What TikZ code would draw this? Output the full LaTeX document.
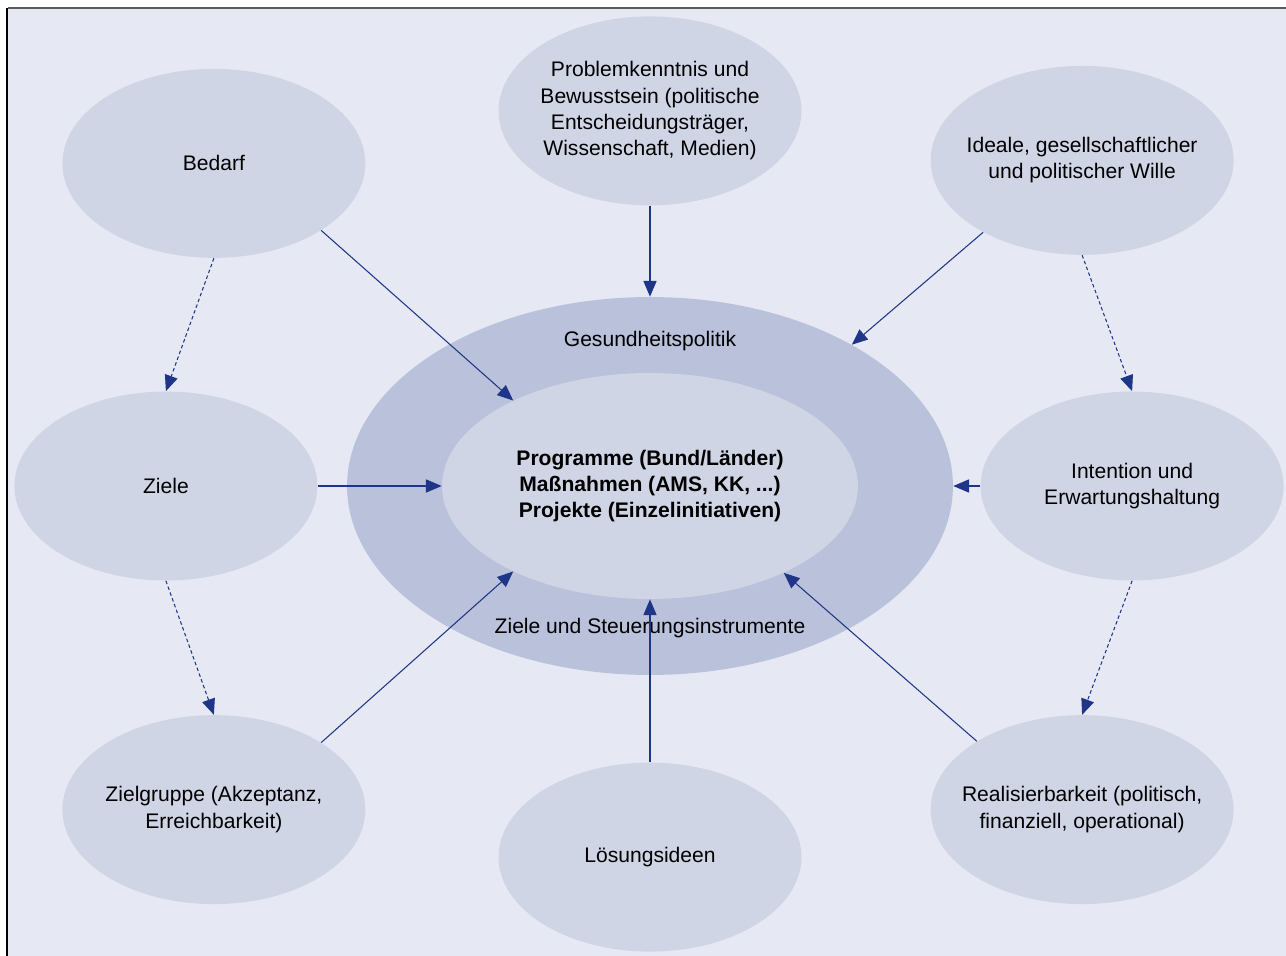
\documentclass[tikz,border=0pt]{standalone}
\usepackage{fontspec}
\setmainfont{Liberation Sans}
\usetikzlibrary{positioning,shapes.geometric,arrows.meta}

\definecolor{pagebg}{HTML}{E6E9F3}
\definecolor{blobfill}{HTML}{D0D5E6}
\definecolor{ringfill}{HTML}{B9C1DB}
\definecolor{linkblue}{HTML}{1F3587}

\tikzset{
  blob/.style={ellipse, fill=blobfill, minimum width=6.06cm, minimum height=3.78cm,
    inner xsep=-0.4cm, inner ysep=0pt, align=center},
  link/.style={draw=linkblue, line width=0.6pt, -{Triangle[length=9pt,width=7.5pt]}},
  hint/.style={link, dash pattern=on 2pt off 1.5pt},
}

\begin{document}
\begin{tikzpicture}[x=0.02cm, y=-0.02cm, font=\fontsize{12}{15}\selectfont]
  % page and frame
  \useasboundingbox (0,0) rectangle (1286,956);
  \fill[pagebg] (8,9) rectangle (1286,956);
  \draw[gray!70!black, line width=1pt] (8,8) -- (1286,8);
  \draw[black, line width=1.2pt] (7,8) -- (7,956);

  % centre
  \node[ellipse, fill=ringfill, inner sep=0pt, minimum width=12.12cm, minimum height=7.56cm] (outer) at (650,486) {};
  \node[ellipse, fill=blobfill, inner sep=0pt, minimum width=8.32cm, minimum height=4.52cm] (inner) at (outer) {};
  \node[align=center, font=\fontsize{12}{15}\selectfont\bfseries] (prog) at (inner)
    {Programme (Bund/Länder)\\Maßnahmen (AMS, KK, ...)\\Projekte (Einzelinitiativen)};
  \node (politik) at (650,341) {Gesundheitspolitik};
  \node (steuerung) at (650,628) {Ziele und Steuerungsinstrumente};

  % surrounding ellipses
  \node[blob, above=1.82cm of outer] (problem)
    {Problemkenntnis und\\Bewusstsein (politische\\Entscheidungsträger,\\Wissenschaft, Medien)};
  \node[blob, below=1.74cm of outer] (loesung) {Lösungsideen};
  \node[blob, left=0.58cm of outer] (ziele) {Ziele};
  \node[blob, right=0.54cm of outer] (intention) {Intention und\\Erwartungshaltung};
  \node[blob, above=2.66cm of ziele, xshift=0.96cm] (bedarf) {Bedarf};
  \node[blob, below=2.68cm of ziele, xshift=0.96cm] (zielgruppe) {Zielgruppe (Akzeptanz,\\Erreichbarkeit)};
  \node[blob, above=2.72cm of intention, xshift=-1cm] (ideale) {Ideale, gesellschaftlicher\\und politischer Wille};
  \node[blob, below=2.68cm of intention, xshift=-1cm] (real) {Realisierbarkeit (politisch,\\finanziell, operational)};

  % influences
  \draw[link] (bedarf.-32) -- (inner.148);
  \draw[link] (problem.south) -- (outer.north);
  \draw[link] (ideale.216) -- (outer.35);
  \draw[link] (ziele.east) -- (inner.west);
  \draw[link] (intention.west) -- (outer.east);
  \draw[link] (zielgruppe.32) -- (inner.212);
  \draw[link] (loesung.north) -- (inner.south);
  \draw[link] (real.147) -- (inner.-33);

  \draw[hint] (bedarf.south) -- (ziele.north);
  \draw[hint] (ziele.south) -- (zielgruppe.north);
  \draw[hint] (ideale.south) -- (intention.north);
  \draw[hint] (intention.south) -- (real.north);
\end{tikzpicture}
\end{document}
